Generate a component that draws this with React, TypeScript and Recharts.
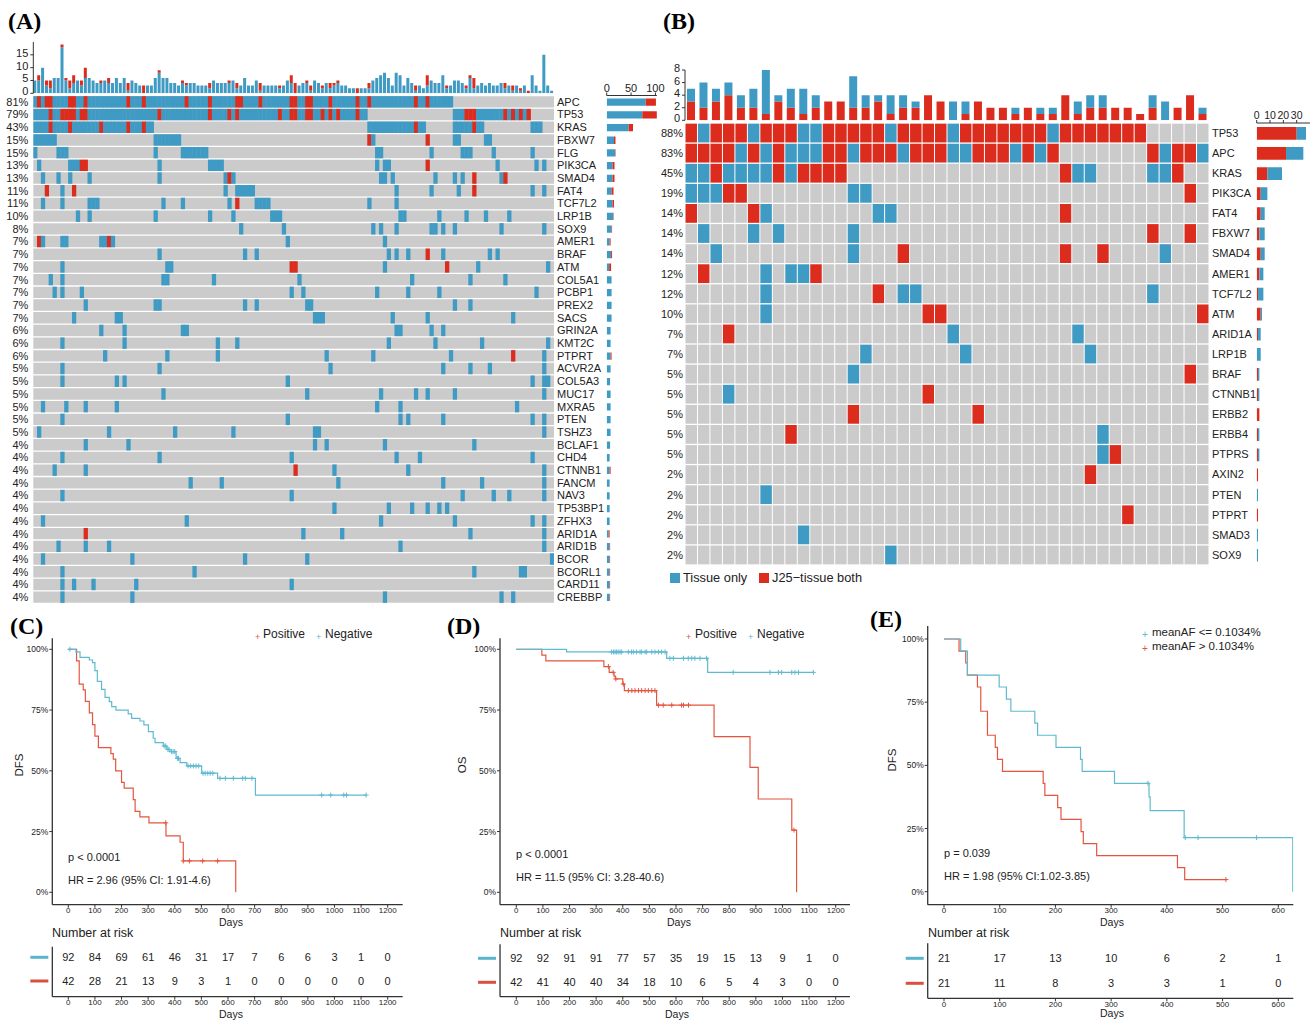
import React from 'react';
import { BarChart, Bar, XAxis, YAxis, ScatterChart, Scatter, ReferenceArea, ComposedChart, Line } from 'recharts';

const BLUE = '#3F9AC4';
const RED = '#DB2C1D';
const GRAY = '#CBCBCB';
const KM_RED = '#E4553F';
const KM_BLUE = '#5FBAD0';
const FONT = '"Liberation Sans", Arial, Helvetica, sans-serif';
const SERIF = '"Liberation Serif", "Times New Roman", serif';
const TXT = '#222';

// ---------------- Panel A ----------------
const genesA = ['APC','TP53','KRAS','FBXW7','FLG','PIK3CA','SMAD4','FAT4','TCF7L2','LRP1B','SOX9','AMER1','BRAF','ATM','COL5A1','PCBP1','PREX2','SACS','GRIN2A','KMT2C','PTPRT','ACVR2A','COL5A3','MUC17','MXRA5','PTEN','TSHZ3','BCLAF1','CHD4','CTNNB1','FANCM','NAV3','TP53BP1','ZFHX3','ARID1A','ARID1B','BCOR','BCORL1','CARD11','CREBBP'];
const pctA = ['81%','79%','43%','15%','15%','13%','13%','11%','11%','10%','8%','7%','7%','7%','7%','7%','7%','7%','6%','6%','6%','5%','5%','5%','5%','5%','5%','4%','4%','4%','4%','4%','4%','4%','4%','4%','4%','4%','4%','4%'];
// [from, to, kind] kind 1 = tissue only (blue), 2 = J25-tissue both (red)
const segA = [
  [[0,0,1],[1,1,2],[2,2,1],[3,4,2],[5,8,1],[9,10,2],[11,12,1],[13,13,2],[14,23,1],[24,24,2],[25,27,1],[28,28,2],[29,38,1],[39,39,2],[40,44,1],[45,45,2],[46,51,1],[52,53,2],[54,57,1],[58,58,2],[59,65,1],[66,67,2],[68,69,1],[70,71,2],[72,75,1],[76,76,2],[77,82,1],[83,83,2],[84,85,1],[86,86,2],[87,97,1],[98,98,2],[99,100,1],[101,101,2],[102,107,1]],
  [[0,3,1],[4,4,2],[5,6,1],[7,10,2],[11,11,1],[12,13,2],[14,31,1],[32,32,2],[33,44,1],[45,45,2],[46,49,1],[50,50,2],[51,51,1],[52,52,2],[53,62,1],[63,63,2],[64,65,1],[66,67,2],[68,69,1],[70,71,2],[72,73,1],[74,74,2],[75,75,1],[76,76,2],[77,77,1],[78,78,2],[79,82,1],[83,83,2],[84,85,1],[108,110,1],[111,113,2],[114,120,1],[121,121,2],[122,122,1],[123,123,2],[124,124,1],[125,125,2],[126,126,1],[127,127,2]],
  [[0,3,1],[4,4,2],[5,8,1],[9,9,2],[10,16,1],[17,17,2],[18,23,1],[24,24,2],[25,27,1],[28,28,2],[29,30,1],[86,97,1],[98,98,2],[99,100,1],[108,112,1],[113,113,2],[114,115,1],[128,130,1]],
  [[0,5,1],[31,37,1],[86,86,2],[87,87,1],[101,101,2],[108,109,1],[116,117,1]],
  [[0,0,1],[6,8,1],[31,31,1],[38,44,1],[88,89,1],[102,102,1],[110,112,1],[118,118,1],[128,128,1]],
  [[1,1,1],[9,11,1],[12,13,2],[32,32,1],[45,48,1],[88,88,1],[90,91,1],[101,101,2],[119,119,1],[129,129,1],[131,131,1]],
  [[2,2,1],[6,6,1],[9,9,1],[14,14,1],[32,32,1],[49,49,1],[50,50,2],[51,51,1],[89,90,1],[92,92,1],[103,103,1],[108,108,1],[110,110,1],[113,113,2],[120,120,1],[121,121,2]],
  [[3,3,2],[7,7,1],[10,10,2],[49,49,1],[52,56,1],[93,93,1],[102,102,1],[109,109,1],[113,113,2],[128,128,1],[131,131,1]],
  [[2,2,1],[7,7,1],[14,16,1],[33,33,1],[38,38,1],[50,50,1],[52,52,2],[57,60,1],[86,86,1],[93,93,1]],
  [[11,11,1],[14,14,1],[31,31,1],[45,45,1],[51,51,1],[61,63,1],[94,95,1],[104,104,1],[111,111,1],[116,116,1],[122,122,1]],
  [[53,53,1],[64,64,1],[87,87,1],[89,89,1],[93,93,1],[102,103,1],[105,105,1],[108,108,1],[120,120,1],[131,131,1]],
  [[1,1,2],[2,2,1],[7,8,1],[17,18,1],[19,19,2],[20,20,1],[65,65,1],[90,90,1]],
  [[32,32,1],[54,54,1],[57,57,1],[91,91,1],[93,93,1],[96,96,1],[101,101,2],[105,105,1],[117,117,1],[119,119,1]],
  [[7,7,1],[34,35,1],[66,67,2],[90,90,1],[106,106,2],[114,114,1],[132,132,1]],
  [[4,4,1],[7,7,1],[33,34,1],[46,46,1],[68,68,1],[97,97,1],[112,112,1],[121,121,1]],
  [[5,5,1],[7,7,1],[12,12,1],[66,66,1],[69,69,1],[88,88,1],[96,96,1],[104,104,1],[129,129,1]],
  [[13,13,1],[31,32,1],[54,54,1],[57,57,1],[70,71,1],[108,108,1],[112,112,1]],
  [[10,10,1],[21,22,1],[72,74,1],[92,92,1],[101,101,1],[123,123,1]],
  [[17,17,1],[23,23,1],[38,39,1],[93,94,1],[102,102,1],[105,105,1]],
  [[7,7,1],[23,23,1],[47,47,1],[52,52,1],[91,91,1],[103,103,1],[115,115,1],[132,132,1]],
  [[18,18,1],[34,34,1],[47,47,1],[75,75,1],[87,87,1],[107,107,1],[123,123,2],[131,131,1]],
  [[7,7,1],[32,32,1],[76,76,1],[105,105,1],[112,112,1],[117,117,1],[131,131,1]],
  [[7,7,1],[21,21,1],[23,23,1],[65,65,1],[128,128,1],[131,132,1]],
  [[33,33,1],[70,70,1],[89,89,1],[98,98,1],[101,101,1],[108,108,1],[131,131,1]],
  [[2,2,1],[8,8,1],[13,13,1],[21,21,1],[88,88,1],[94,94,1],[124,124,1]],
  [[7,7,1],[65,65,1],[94,94,1],[96,96,1],[105,105,1],[128,128,1],[131,131,1]],
  [[1,1,1],[19,19,1],[36,36,1],[51,51,1],[72,73,1],[131,131,1]],
  [[13,13,1],[24,24,1],[72,72,1],[75,75,1],[90,90,1],[113,113,1]],
  [[7,7,1],[32,32,1],[66,66,1],[93,93,1],[99,99,1],[128,128,1]],
  [[5,5,1],[13,13,1],[67,67,2],[77,77,1],[96,96,1],[131,131,1]],
  [[40,40,1],[48,48,1],[78,78,1],[105,105,1],[115,115,1],[131,131,1]],
  [[7,7,1],[66,66,1],[110,110,1],[118,118,1],[122,122,1],[131,131,1]],
  [[77,77,1],[91,91,1],[97,97,1],[101,101,1],[104,104,1],[106,106,1]],
  [[2,2,1],[39,39,1],[89,89,1],[108,108,1],[128,128,1],[131,131,1]],
  [[13,13,2],[69,69,1],[79,79,1],[112,112,1],[131,131,1]],
  [[6,6,1],[13,13,1],[19,19,1],[94,94,1],[131,131,1]],
  [[2,2,1],[25,25,1],[54,54,1],[70,70,1],[133,133,1]],
  [[7,7,1],[41,41,1],[113,113,1],[125,126,1]],
  [[7,7,1],[10,10,1],[15,15,1],[26,26,1],[66,66,1]],
  [[7,7,1],[25,25,1],[90,90,1],[120,120,1],[123,123,1]],
];
const topATotal = [5,7,10,5,5,6,6,19,6,5, 7,5,5,10,6,5,4,5,5,6, 4,6,4,6,4,5,4,3,3,3, 3,6,9,6,6,4,4,3,5,4, 4,4,3,3,3,4,5,4,4,4, 5,5,4,3,6,3,3,5,4,3, 3,3,3,3,3,5,7,4,3,4, 5,3,5,4,3,4,4,4,5,3, 3,2,2,2,2,2,4,5,6,7, 8,6,3,8,7,3,6,4,3,3, 2,7,5,4,4,7,3,3,5,5, 4,3,7,6,3,4,3,4,3,3, 4,4,3,3,3,2,3,1,7,3, 1,15,3,1];
const topARed = [0,2,0,2,3,0,0,1,1,3, 3,0,2,4,0,0,0,1,0,2, 0,0,0,0,3,0,0,0,3,0, 0,0,1,0,0,0,0,0,1,1, 0,0,0,0,0,2,0,0,0,0, 1,0,2,0,0,0,0,0,3,0, 0,0,0,1,0,0,3,4,0,0, 1,2,0,0,1,0,2,1,1,0, 0,0,0,2,0,0,2,0,0,0, 0,0,0,0,0,0,0,0,2,0, 0,4,0,0,0,0,1,0,0,0, 0,1,1,4,0,0,0,0,0,0, 0,2,0,2,0,1,0,1,0,0, 0,0,0,0];
const rightABlue = [80,73,45,15,17,12,12,10,12,13,10,6,9,5,10,10,10,10,8,8,8,8,7,8,8,8,8,7,6,6,6,6,6,6,4,6,6,6,6,6];
const rightARed = [21,30,9,3,1,4,4,4,3,1,1,2,2,4,0,0,0,0,0,0,2,0,0,0,0,0,0,0,0,2,0,0,0,0,2,1,1,1,1,1];
const topATicks = [0,5,10,15];
const rightATicks = [0,50,100];

// ---------------- Panel B ----------------
const genesB = ['TP53','APC','KRAS','PIK3CA','FAT4','FBXW7','SMAD4','AMER1','TCF7L2','ATM','ARID1A','LRP1B','BRAF','CTNNB1','ERBB2','ERBB4','PTPRS','AXIN2','PTEN','PTPRT','SMAD3','SOX9'];
const pctB = ['88%','83%','45%','19%','14%','14%','14%','12%','12%','10%','7%','7%','5%','5%','5%','5%','5%','2%','2%','2%','2%','2%'];
const nB = 42;
const segB = [
  [[0,0,2],[1,1,1],[2,4,2],[5,5,1],[6,8,2],[9,10,1],[11,15,2],[16,16,1],[17,20,2],[21,21,1],[22,28,2],[29,29,1],[30,36,2]],
  [[0,3,2],[4,4,1],[5,5,2],[6,6,1],[7,7,2],[8,10,1],[11,12,2],[13,13,1],[14,16,2],[17,17,1],[18,20,2],[21,22,1],[23,25,2],[26,26,1],[27,27,2],[28,28,1],[29,29,2],[37,37,2],[38,38,1],[39,40,2],[41,41,1]],
  [[0,1,1],[2,2,2],[3,6,1],[7,7,2],[8,8,1],[9,12,2],[30,30,2],[31,32,1],[37,38,1],[39,39,2]],
  [[0,2,1],[3,4,2],[13,14,1],[40,40,2]],
  [[0,0,2],[5,5,2],[6,6,1],[15,16,1],[30,30,2]],
  [[1,1,1],[5,5,1],[7,7,1],[13,13,1],[37,37,2],[40,40,2]],
  [[2,2,1],[13,13,1],[17,17,2],[30,30,2],[33,33,2],[38,38,1]],
  [[1,1,2],[6,6,1],[8,9,1],[10,10,2]],
  [[6,6,1],[15,15,2],[17,18,1],[37,37,1]],
  [[6,6,1],[19,20,2],[41,41,2]],
  [[3,3,2],[21,21,1],[31,31,1]],
  [[14,14,1],[22,22,1],[32,32,1]],
  [[13,13,1],[40,40,2]],
  [[3,3,1],[19,19,2]],
  [[13,13,2],[23,23,2]],
  [[8,8,2],[33,33,1]],
  [[33,33,1],[34,34,2]],
  [[32,32,2]],
  [[6,6,1]],
  [[35,35,2]],
  [[9,9,1]],
  [[16,16,1]],
];
const topBTicks = [0,2,4,6,8];
const rightBTicks = [0,10,20,30];

// ---------------- Panels C, D, E ----------------
const riskTimesCD = [0,100,200,300,400,500,600,700,800,900,1000,1100,1200];
const riskTimesE = [0,100,200,300,400,500,600];
const kmYTicks = [0,0.25,0.5,0.75,1];

const cPos = [[0,1],[31,0.952],[41,0.857],[56,0.833],[64,0.786],[79,0.738],[91,0.69],[100,0.643],[113,0.595],[160,0.571],[169,0.548],[178,0.5],[200,0.452],[210,0.429],[244,0.381],[251,0.333],[269,0.31],[303,0.286],[367,0.232],[420,0.206],[432,0.129],[629,0.129],[629,0]];
const cPosCens = [[366,0.286],[432,0.129],[455,0.129],[505,0.129],[561,0.129]];
const cNeg = [[0,1],[29,0.989],[44,0.967],[79,0.956],[91,0.945],[100,0.912],[109,0.868],[125,0.835],[138,0.802],[154,0.785],[163,0.764],[179,0.75],[225,0.734],[238,0.716],[269,0.705],[284,0.689],[301,0.661],[319,0.634],[326,0.616],[357,0.602],[370,0.588],[382,0.579],[405,0.551],[420,0.534],[445,0.52],[501,0.49],[561,0.469],[703,0.4],[1119,0.4]];
const cNegCens = [[6,1],[360,0.602],[366,0.602],[374,0.588],[378,0.588],[388,0.579],[394,0.579],[400,0.579],[410,0.551],[414,0.551],[450,0.52],[460,0.52],[470,0.52],[480,0.52],[490,0.52],[506,0.49],[514,0.49],[524,0.49],[533,0.49],[543,0.49],[570,0.469],[590,0.469],[620,0.469],[655,0.469],[665,0.469],[690,0.469],[952,0.4],[986,0.4],[1035,0.4],[1045,0.4],[1119,0.4]];
const cRiskBlue = [92,84,69,61,46,31,17,7,6,6,3,1,0];
const cRiskRed = [42,28,21,13,9,3,1,0,0,0,0,0,0];

const dPos = [[0,1],[96,0.976],[111,0.952],[329,0.929],[349,0.905],[367,0.89],[372,0.878],[400,0.857],[406,0.83],[527,0.77],[743,0.641],[878,0.514],[909,0.384],[1035,0.256],[1053,0.256],[1053,0]];
const dPosCens = [[346,0.929],[364,0.905],[374,0.878],[402,0.857],[421,0.83],[434,0.83],[446,0.83],[459,0.83],[471,0.83],[484,0.83],[496,0.83],[509,0.83],[521,0.83],[534,0.77],[552,0.77],[584,0.77],[621,0.77],[628,0.77],[647,0.77],[1043,0.256]];
const dNeg = [[0,1],[189,0.989],[565,0.963],[719,0.905],[1116,0.905]];
const dNegCens = [[358,0.989],[365,0.989],[371,0.989],[377,0.989],[383,0.989],[390,0.989],[396,0.989],[421,0.989],[433,0.989],[440,0.989],[452,0.989],[465,0.989],[471,0.989],[484,0.989],[490,0.989],[509,0.989],[521,0.989],[534,0.989],[546,0.989],[559,0.989],[577,0.963],[590,0.963],[628,0.963],[646,0.963],[659,0.963],[671,0.963],[690,0.963],[715,0.963],[815,0.905],[953,0.905],[985,0.905],[997,0.905],[1035,0.905],[1047,0.905],[1060,0.905],[1116,0.905]];
const dRiskBlue = [92,92,91,91,77,57,35,19,15,13,9,1,0];
const dRiskRed = [42,41,40,40,34,18,10,6,5,4,3,0,0];

const eLow = [[0,1],[30,0.952],[42,0.857],[99,0.81],[112,0.762],[120,0.714],[163,0.667],[168,0.619],[201,0.571],[245,0.524],[248,0.476],[306,0.429],[368,0.375],[370,0.321],[431,0.214],[626,0.214],[626,0]];
const eLowCens = [[366,0.429],[433,0.214],[456,0.214],[561,0.214]];
const eHigh = [[0,1],[27,0.952],[39,0.905],[42,0.857],[60,0.81],[66,0.714],[78,0.619],[92,0.571],[96,0.524],[105,0.476],[178,0.429],[181,0.381],[204,0.333],[210,0.286],[246,0.238],[250,0.19],[274,0.143],[419,0.095],[432,0.048],[506,0.048]];
const eHighCens = [[506,0.048]];
const eRiskBlue = [21,17,13,10,6,2,1];
const eRiskRed = [21,11,8,3,3,1,0];

// ---------------- helpers ----------------
const T = ({ x, y, s, size = 11, anchor = 'start', color = TXT, weight = 400, family = FONT, rotate = 0 }: any) => {
  const tx = anchor === 'start' ? '0' : anchor === 'end' ? '-100%' : '-50%';
  return (
    <div style={{ position: 'absolute', left: x, top: y, transform: `translate(${tx},-50%)${rotate ? ` rotate(${rotate}deg)` : ''}`, fontSize: size, lineHeight: 1, whiteSpace: 'nowrap', color, fontWeight: weight, fontFamily: family }}>{s}</div>
  );
};
const Pos = ({ l, t, children }: any) => <div style={{ position: 'absolute', left: l, top: t }}>{children}</div>;

const tickStyle = (size: number) => ({ fontSize: size, fill: TXT, fontFamily: FONT });
const axisStroke = { stroke: '#333', strokeWidth: 1 };
// raised y-axis tick label (labels sit ~2px above their tick in the reference)
const raisedTick = (p: any) => (
  <text x={p.x} y={p.y - 2} textAnchor="end" dominantBaseline="central" fontSize={11} fill={TXT} fontFamily={FONT}>{p.payload.value}</text>
);

const plusShape = (color: string) => (p: any) => (
  <path d={`M${p.cx - 2.5},${p.cy}H${p.cx + 2.5}M${p.cx},${p.cy - 2.5}V${p.cy + 2.5}`} stroke={color} strokeWidth={1} fill="none" />
);

function KMChart({ left, top, width, plotL, plotT, plotR, plotB, x0, ppd, y100, y0, ticks, curves }: any) {
  const xDom = [-(x0 - plotL) / ppd, (plotR - x0) / ppd];
  const span = y0 - y100;
  const yDom = [(y0 - plotB) / span, (y0 - plotT) / span];
  const axisH = 20;
  const height = plotB - top + axisH;
  return (
    <Pos l={left} t={top}>
      <ComposedChart width={width} height={height} margin={{ top: plotT - top, right: left + width - plotR, bottom: 0, left: 0 }}>
        <XAxis type="number" dataKey="t" domain={xDom} ticks={ticks} allowDataOverflow interval={0} height={axisH} tickSize={3} tickMargin={0} tick={tickStyle(8)} axisLine={{ stroke: '#333', strokeWidth: 1.3 }} tickLine={axisStroke} />
        <YAxis type="number" dataKey="s" domain={yDom} ticks={kmYTicks} allowDataOverflow interval={0} width={plotL - left} tickSize={3} tickMargin={1} tickFormatter={(v: number) => `${Math.round(v * 100)}%`} tick={tickStyle(8.5)} axisLine={{ stroke: '#333', strokeWidth: 1.3 }} tickLine={axisStroke} />
        {curves.map((c: any, i: number) => (
          <Line key={'l' + i} data={c.pts.map(([t, s]: number[]) => ({ t, s }))} dataKey="s" type="stepAfter" stroke={c.color} strokeWidth={1.2} dot={false} activeDot={false} isAnimationActive={false} />
        ))}
        {curves.map((c: any, i: number) => (
          <Scatter key={'c' + i} data={c.cens.map(([t, s]: number[]) => ({ t, s }))} dataKey="s" shape={plusShape(c.color)} isAnimationActive={false} />
        ))}
      </ComposedChart>
    </Pos>
  );
}

function RiskTable({ left, top, width, plotL, plotT, plotR, plotB, x0, ppd, rowBlue, rowRed, ticks, blue, red }: any) {
  const xDom = [-(x0 - plotL) / ppd, (plotR - x0) / ppd];
  const unit = rowRed - rowBlue;
  const yDom = [1 - (plotB - rowRed) / unit, 2 + (rowBlue - plotT) / unit];
  const axisH = 16;
  const height = plotB - top + axisH;
  const data = [
    ...ticks.map((t: number, i: number) => ({ t, s: 2, n: blue[i] })),
    ...ticks.map((t: number, i: number) => ({ t, s: 1, n: red[i] })),
  ];
  return (
    <Pos l={left} t={top}>
      <ScatterChart width={width} height={height} margin={{ top: plotT - top, right: left + width - plotR, bottom: 0, left: 0 }}>
        <XAxis type="number" dataKey="t" domain={xDom} ticks={ticks} allowDataOverflow interval={0} height={axisH} tickSize={3} tickMargin={0} tick={tickStyle(8)} axisLine={{ stroke: '#333', strokeWidth: 1.3 }} tickLine={axisStroke} />
        <YAxis type="number" dataKey="s" domain={yDom} ticks={[1, 2]} allowDataOverflow interval={0} width={plotL - left} tickSize={0} tickMargin={0} tickLine={false} axisLine={{ stroke: '#333', strokeWidth: 1.3 }}
          tick={(p: any) => <line x1={p.x - 22} x2={p.x - 4} y1={p.y} y2={p.y} stroke={p.payload.value === 2 ? '#5AB4CB' : '#D8503E'} strokeWidth={3} />} />
        <Scatter data={data} dataKey="s" isAnimationActive={false}
          shape={(p: any) => <text x={p.cx} y={p.cy} textAnchor="middle" dominantBaseline="central" fontSize={11} fill={TXT} fontFamily={FONT}>{p.payload.n}</text>} />
      </ScatterChart>
    </Pos>
  );
}

export default function App() {
  // Panel A geometry
  const nA = topATotal.length;
  const A_L = 33.3, A_R = 554, A_T = 95.5, A_B = 603.5;
  const cwA = (A_R - A_L) / nA;
  const rhA = (A_B - A_T) / genesA.length;
  const cellsA: any[] = [];
  segA.forEach((segs, g) => segs.forEach(([a, b, k]) => { for (let c = a; c <= b; c++) cellsA.push({ x: c + 0.5, y: g + 0.5, k }); }));
  const rowPtsA = genesA.map((_, g) => ({ x: 0.5, y: g + 0.5 }));
  const rowTicksA = genesA.map((_, g) => g + 0.5);
  const topAData = topATotal.map((tot, i) => ({ i, blue: tot - topARed[i], red: topARed[i] }));
  const rightAData = genesA.map((g, i) => ({ g, blue: rightABlue[i], red: rightARed[i] }));

  // Panel B geometry
  const B_L = 685, B_R = 1209, B_T = 123, B_B = 565;
  const cwB = (B_R - B_L) / nB;
  const rhB = (B_B - B_T) / genesB.length;
  const gridB = segB.map((segs) => { const row = new Array(nB).fill(0); segs.forEach(([a, b, k]) => { for (let c = a; c <= b; c++) row[c] = k; }); return row; });
  const cellsB: any[] = [];
  gridB.forEach((row, g) => row.forEach((k, c) => cellsB.push({ x: c + 0.5, y: g + 0.5, k })));
  const rowPtsB = genesB.map((_, g) => ({ x: 0.5, y: g + 0.5 }));
  const rowTicksB = genesB.map((_, g) => g + 0.5);
  const topBData = Array.from({ length: nB }, (_, c) => ({
    c,
    red: gridB.reduce((s, row) => s + (row[c] === 2 ? 1 : 0), 0),
    blue: gridB.reduce((s, row) => s + (row[c] === 1 ? 1 : 0), 0),
  }));
  const rightBData = genesB.map((g, i) => ({
    g,
    red: gridB[i].filter((k) => k === 2).length,
    blue: gridB[i].filter((k) => k === 1).length,
  }));
  const colorOf = (k: number) => (k === 2 ? RED : k === 1 ? BLUE : GRAY);

  return (
    <div style={{ position: 'absolute', left: 0, top: 0, width: 1312, height: 1020, background: '#fff', fontFamily: FONT, overflow: 'hidden' }}>
      {/* Panel labels */}
      <T x={8} y={21} s="(A)" size={24} weight={700} family={SERIF} color="#000" />
      <T x={663} y={21} s="(B)" size={24} weight={700} family={SERIF} color="#000" />
      <T x={10} y={626} s="(C)" size={24} weight={700} family={SERIF} color="#000" />
      <T x={447} y={626} s="(D)" size={24} weight={700} family={SERIF} color="#000" />
      <T x={870} y={619} s="(E)" size={24} weight={700} family={SERIF} color="#000" />

      {/* A: top bars */}
      <Pos l={0} t={40}>
        <BarChart width={556} height={59.3} data={topAData} margin={{ top: 2, right: 2, bottom: 6, left: 0 }}>
          <XAxis dataKey="i" hide />
          <YAxis type="number" domain={[0, 20]} ticks={topATicks} allowDataOverflow interval={0} width={A_L} tickSize={3} tickMargin={2} tick={raisedTick} axisLine={axisStroke} tickLine={axisStroke} />
          <Bar dataKey="blue" stackId="s" fill={BLUE} barSize={3} isAnimationActive={false} />
          <Bar dataKey="red" stackId="s" fill={RED} barSize={3} isAnimationActive={false} />
        </BarChart>
      </Pos>

      {/* A: matrix */}
      <Pos l={0} t={90}>
        <ScatterChart width={640} height={520} margin={{ top: A_T - 90, right: 0, bottom: 610 - A_B, left: 0 }}>
          <XAxis type="number" dataKey="x" domain={[0, nA]} allowDataOverflow hide />
          <YAxis yAxisId="l" type="number" dataKey="y" domain={[0, genesA.length]} reversed allowDataOverflow ticks={rowTicksA} interval={0} width={A_L} tickLine={false} axisLine={false} tickSize={0} tickMargin={5} tickFormatter={(v: number) => pctA[Math.floor(v)]} tick={tickStyle(11)} />
          <YAxis yAxisId="r" orientation="right" type="number" dataKey="y" domain={[0, genesA.length]} reversed allowDataOverflow ticks={rowTicksA} interval={0} width={640 - A_R} tickLine={false} axisLine={false} tickSize={0} tickMargin={3} tickFormatter={(v: number) => genesA[Math.floor(v)]} tick={tickStyle(11)} />
          {genesA.map((g, i) => (
            <ReferenceArea key={g} yAxisId="l" x1={0} x2={nA} y1={i + 0.05} y2={i + 0.95} fill={GRAY} fillOpacity={1} stroke="none" ifOverflow="visible" />
          ))}
          <Scatter yAxisId="l" data={cellsA} isAnimationActive={false}
            shape={(p: any) => <rect x={p.cx - cwA / 2 - 0.2} y={p.cy - rhA * 0.45} width={cwA + 0.4} height={rhA * 0.9} fill={colorOf(p.payload.k)} />} />
          <Scatter yAxisId="r" data={rowPtsA} isAnimationActive={false} shape={() => <g />} />
        </ScatterChart>
      </Pos>

      {/* A: right bars */}
      <Pos l={596} t={60}>
        <BarChart layout="vertical" width={70} height={550} data={rightAData} margin={{ top: 15.5, right: 70 - 10.7 - 50.2, bottom: 6.5, left: 10.7 }}>
          <XAxis type="number" orientation="top" domain={[0, 103]} ticks={rightATicks} allowDataOverflow interval={0} height={20} tickSize={3} tickMargin={1} tick={tickStyle(11)} axisLine={axisStroke} tickLine={axisStroke} />
          <YAxis type="category" dataKey="g" hide />
          <Bar dataKey="blue" stackId="s" fill={BLUE} barSize={7.3} isAnimationActive={false} />
          <Bar dataKey="red" stackId="s" fill={RED} barSize={7.3} isAnimationActive={false} />
        </BarChart>
      </Pos>

      {/* B: top bars */}
      <Pos l={640} t={60}>
        <BarChart width={575} height={66} data={topBData} margin={{ top: 10, right: 6, bottom: 5.7, left: 0 }}>
          <XAxis dataKey="c" hide />
          <YAxis type="number" domain={[0, 8]} ticks={topBTicks} allowDataOverflow interval={0} width={B_L - 640} tickSize={3} tickMargin={2} tick={raisedTick} axisLine={axisStroke} tickLine={axisStroke} />
          <Bar dataKey="red" stackId="s" fill={RED} barSize={8} isAnimationActive={false} />
          <Bar dataKey="blue" stackId="s" fill={BLUE} barSize={8} isAnimationActive={false} />
        </BarChart>
      </Pos>

      {/* B: matrix */}
      <Pos l={640} t={118}>
        <ScatterChart width={620} height={450} margin={{ top: B_T - 118, right: 0, bottom: 568 - B_B, left: 0 }}>
          <XAxis type="number" dataKey="x" domain={[0, nB]} allowDataOverflow hide />
          <YAxis yAxisId="l" type="number" dataKey="y" domain={[0, genesB.length]} reversed allowDataOverflow ticks={rowTicksB} interval={0} width={B_L - 640} tickLine={false} axisLine={false} tickSize={0} tickMargin={2} tickFormatter={(v: number) => pctB[Math.floor(v)]} tick={tickStyle(11)} />
          <YAxis yAxisId="r" orientation="right" type="number" dataKey="y" domain={[0, genesB.length]} reversed allowDataOverflow ticks={rowTicksB} interval={0} width={1260 - B_R} tickLine={false} axisLine={false} tickSize={0} tickMargin={3} tickFormatter={(v: number) => genesB[Math.floor(v)]} tick={tickStyle(11)} />
          <Scatter yAxisId="l" data={cellsB} isAnimationActive={false}
            shape={(p: any) => <rect x={p.cx - cwB / 2 + 0.5} y={p.cy - rhB / 2 + 0.65} width={cwB - 1} height={rhB - 1.3} fill={colorOf(p.payload.k)} />} />
          <Scatter yAxisId="r" data={rowPtsB} isAnimationActive={false} shape={() => <g />} />
        </ScatterChart>
      </Pos>

      {/* B: right bars */}
      <Pos l={1250} t={98}>
        <BarChart layout="vertical" width={62} height={470} data={rightBData} margin={{ top: 10, right: 2, bottom: 3, left: 6.7 }}>
          <XAxis type="number" orientation="top" domain={[0, 40]} ticks={rightBTicks} allowDataOverflow interval={0} height={15} tickSize={3} tickMargin={1} tick={tickStyle(10.5)} axisLine={axisStroke} tickLine={axisStroke} />
          <YAxis type="category" dataKey="g" hide />
          <Bar dataKey="red" stackId="s" fill={RED} barSize={12.7} isAnimationActive={false} />
          <Bar dataKey="blue" stackId="s" fill={BLUE} barSize={12.7} isAnimationActive={false} />
        </BarChart>
      </Pos>

      {/* B legend */}
      <div style={{ position: 'absolute', left: 670, top: 572.7, width: 10, height: 10, background: BLUE }} />
      <T x={683} y={577.5} s="Tissue only" size={12.8} />
      <div style={{ position: 'absolute', left: 759.3, top: 572.7, width: 10, height: 10, background: RED }} />
      <T x={772} y={577.5} s="J25−tissue both" size={12.8} />

      {/* C */}
      <KMChart left={0} top={620} width={410} plotL={52.3} plotT={638.3} plotR={402.7} plotB={904.7} x0={68.3} ppd={0.26617} y100={649.3} y0={892.3} ticks={riskTimesCD}
        curves={[{ pts: cPos, cens: cPosCens, color: KM_RED }, { pts: cNeg, cens: cNegCens, color: KM_BLUE }]} />
      <T x={255} y={637} s="+" size={9} color={KM_RED} />
      <T x={263} y={634} s="Positive" size={12} />
      <T x={316} y={637} s="+" size={9} color={KM_BLUE} />
      <T x={325} y={634} s="Negative" size={12} />
      <T x={68} y={857} s="p < 0.0001" size={11} />
      <T x={68} y={880} s="HR = 2.96 (95% CI: 1.91-4.6)" size={11} />
      <T x={20} y={765} s="DFS" size={11.5} anchor="middle" rotate={-90} />
      <T x={231} y={922.3} s="Days" size={10.5} anchor="middle" />
      <T x={52} y={933.3} s="Number at risk" size={12.5} />
      <RiskTable left={0} top={940} width={410} plotL={52.3} plotT={946.7} plotR={402.7} plotB={996.7} x0={68.3} ppd={0.26617} rowBlue={957.3} rowRed={981} ticks={riskTimesCD} blue={cRiskBlue} red={cRiskRed} />
      <T x={231} y={1014.3} s="Days" size={10.5} anchor="middle" />

      {/* D */}
      <KMChart left={448} top={620} width={410} plotL={500} plotT={638.3} plotR={850} plotB={904.7} x0={516.3} ppd={0.26617} y100={649.3} y0={892.3} ticks={riskTimesCD}
        curves={[{ pts: dPos, cens: dPosCens, color: KM_RED }, { pts: dNeg, cens: dNegCens, color: KM_BLUE }]} />
      <T x={686} y={637} s="+" size={9} color={KM_RED} />
      <T x={695} y={634} s="Positive" size={12} />
      <T x={748} y={637} s="+" size={9} color={KM_BLUE} />
      <T x={757} y={634} s="Negative" size={12} />
      <T x={516} y={854.3} s="p < 0.0001" size={11} />
      <T x={516} y={877.3} s="HR = 11.5 (95% CI: 3.28-40.6)" size={11} />
      <T x={463} y={765} s="OS" size={11.5} anchor="middle" rotate={-90} />
      <T x={679} y={922.3} s="Days" size={10.5} anchor="middle" />
      <T x={500} y={933.3} s="Number at risk" size={12.5} />
      <RiskTable left={448} top={938} width={410} plotL={500} plotT={944.3} plotR={850} plotB={996.7} x0={516.3} ppd={0.26617} rowBlue={958.3} rowRed={982.3} ticks={riskTimesCD} blue={dRiskBlue} red={dRiskRed} />
      <T x={677} y={1014.3} s="Days" size={10.5} anchor="middle" />

      {/* E */}
      <KMChart left={876} top={615} width={430} plotL={927.7} plotT={626} plotR={1293.3} plotB={904.7} x0={944} ppd={0.55717} y100={639} y0={891.7} ticks={riskTimesE}
        curves={[{ pts: eHigh, cens: eHighCens, color: KM_RED }, { pts: eLow, cens: eLowCens, color: KM_BLUE }]} />
      <T x={1142} y={635} s="+" size={10} color={KM_BLUE} />
      <T x={1152} y={633.3} s="meanAF <= 0.1034%" size={11.5} />
      <T x={1142} y={649} s="+" size={10} color={KM_RED} />
      <T x={1152} y={646.7} s="meanAF > 0.1034%" size={11.5} />
      <T x={944} y={853.3} s="p = 0.039" size={11} />
      <T x={944} y={876} s="HR = 1.98 (95% CI:1.02-3.85)" size={11} />
      <T x={893} y={760} s="DFS" size={11.5} anchor="middle" rotate={-90} />
      <T x={1112} y={922.3} s="Days" size={10.5} anchor="middle" />
      <T x={928} y={932.7} s="Number at risk" size={12.5} />
      <RiskTable left={876} top={937} width={430} plotL={927.7} plotT={943.3} plotR={1293.3} plotB={998.3} x0={944} ppd={0.55717} rowBlue={958.3} rowRed={983.3} ticks={riskTimesE} blue={eRiskBlue} red={eRiskRed} />
      <T x={1112} y={1013.3} s="Days" size={10.5} anchor="middle" />
    </div>
  );
}
